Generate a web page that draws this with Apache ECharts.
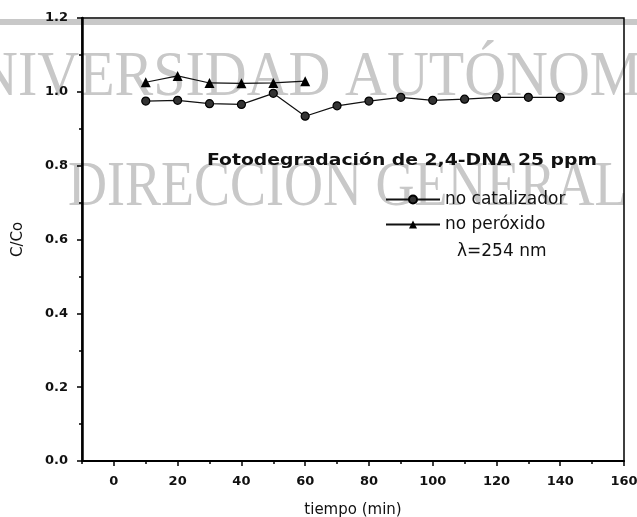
<!DOCTYPE html>
<html>
<head>
<meta charset="utf-8">
<script src="https://cdn.jsdelivr.net/npm/echarts@6/dist/echarts.min.js"></script>
<style>html,body{margin:0;padding:0;background:#fff}#c{width:637px;height:517px}</style>
</head>
<body>
<div id="c"></div>
<script>
// ---- data ----
const xTiempo = [10, 20, 30, 40, 50, 60, 70, 80, 90, 100, 110, 120, 130, 140];
const noCatalizador = [0.975, 0.977, 0.968, 0.966, 0.996, 0.934, 0.962, 0.975, 0.985, 0.977, 0.980, 0.985, 0.985, 0.985];
const xPeroxido = [10, 20, 30, 40, 50, 60];
const noPeroxido = [1.026, 1.043, 1.024, 1.023, 1.024, 1.029];
const xMajorTicks = [0, 20, 40, 60, 80, 100, 120, 140, 160];
const xMinorTicks = [-10, 10, 30, 50, 70, 90, 110, 130, 150];
const seriesNames = ['no catalizador', 'no peróxido'];
const titleText = 'Fotodegradación de 2,4-DNA 25 ppm';
const lambdaText = 'λ=254 nm';
const xName = 'tiempo (min)';
const yName = 'C/Co';
const watermark1 = 'UNIVERSIDAD AUTÓNOMA DE NUEVO LEÓN';
const watermark2 = 'DIRECCION GENERAL DE BIBLIOTECAS';

function measure(text, font) {
  const cv = document.createElement('canvas').getContext('2d');
  cv.font = font;
  return cv.measureText(text).width;
}

const titleFont = 'bold 16px "DejaVu Sans"';
const titleScale = 390 / measure(titleText, titleFont);
const wm1Font = '58px "Liberation Serif"';
const wm2Font = '54px "Liberation Serif"';
const wm1X = 345 - measure('UNIVERSIDAD ', wm1Font);

const chart = echarts.init(document.getElementById('c'), null, {renderer: 'canvas'});
const axisFont = {fontFamily: 'DejaVu Sans', fontWeight: 'bold', fontSize: 13, color: '#111'};

chart.setOption({
  backgroundColor: '#fff',
  animation: false,
  grid: {left: 82, right: 13, top: 18, bottom: 56, show: true, borderColor: '#000', borderWidth: 1.5,
    backgroundColor: 'transparent', outerBoundsMode: 'none', containLabel: false},
  graphic: [
    {type: 'rect', z: -10, silent: true, shape: {x: 0, y: 19, width: 637, height: 6}, style: {fill: '#c8c8c8'}},
    {type: 'text', z: -10, silent: true, x: wm1X, y: 79, scaleY: 1.08,
      style: {text: watermark1, font: wm1Font, fill: '#c8c8c8', textAlign: 'left', textVerticalAlign: 'middle', verticalAlign: 'middle'}},
    {type: 'text', z: -10, silent: true, x: 68, y: 188, scaleY: 1.18,
      style: {text: watermark2, font: wm2Font, fill: '#c8c8c8', textAlign: 'left', textVerticalAlign: 'middle', verticalAlign: 'middle'}},
    {type: 'text', z: 10, x: 207, y: 161, scaleX: titleScale,
      style: {text: titleText, font: titleFont, fill: '#111', textAlign: 'left', textVerticalAlign: 'middle', verticalAlign: 'middle'}},
    {type: 'text', z: 10, x: 457, y: 252,
      style: {text: lambdaText, font: '17px "DejaVu Sans"', fill: '#111', textAlign: 'left', textVerticalAlign: 'middle', verticalAlign: 'middle'}}
  ],
  legend: {
    orient: 'vertical', left: 385, top: 191, padding: 0, itemGap: 8,
    itemWidth: 54, itemHeight: 10,
    textStyle: {fontFamily: 'DejaVu Sans', fontSize: 17, color: '#111'},
    data: seriesNames
  },
  xAxis: [
    {
      type: 'value', min: -10, max: 160,
      name: xName, nameLocation: 'middle', nameGap: 42,
      nameTextStyle: {fontFamily: 'DejaVu Sans', fontSize: 15, color: '#111'},
      axisLine: {show: true, onZero: false, lineStyle: {color: '#000', width: 2}},
      axisTick: {show: true, inside: false, length: 5, customValues: xMajorTicks, lineStyle: {color: '#000', width: 1.5}},
      axisLabel: {show: true, margin: 14, customValues: xMajorTicks, ...axisFont},
      splitLine: {show: false}
    },
    {
      type: 'value', min: -10, max: 160, position: 'bottom',
      axisLine: {show: false, onZero: false},
      axisTick: {show: true, inside: false, length: 3, customValues: xMinorTicks, lineStyle: {color: '#000', width: 1.5}},
      axisLabel: {show: false},
      splitLine: {show: false}
    }
  ],
  yAxis: {
    type: 'value', min: 0, max: 1.2, interval: 0.2,
    name: yName, nameLocation: 'middle', nameGap: 56,
    nameTextStyle: {fontFamily: 'DejaVu Sans', fontSize: 15, color: '#111'},
    axisLine: {show: true, onZero: false, lineStyle: {color: '#000', width: 2.5}},
    axisTick: {show: true, inside: false, length: 5, lineStyle: {color: '#000', width: 1.5}},
    minorTick: {show: true, splitNumber: 2, length: 3, lineStyle: {color: '#000', width: 1.5}},
    axisLabel: {margin: 14, formatter: v => v.toFixed(1), ...axisFont},
    splitLine: {show: false}
  },
  series: [
    {
      name: seriesNames[0], type: 'line', xAxisIndex: 0,
      data: xTiempo.map((x, i) => [x, noCatalizador[i]]),
      symbol: 'circle', symbolSize: 8,
      lineStyle: {color: '#111', width: 1.2},
      itemStyle: {color: '#333', borderColor: '#000', borderWidth: 1.2}
    },
    {
      name: seriesNames[1], type: 'line', xAxisIndex: 0,
      data: xPeroxido.map((x, i) => [x, noPeroxido[i]]),
      symbol: 'triangle', symbolSize: 10,
      lineStyle: {color: '#111', width: 1.2},
      itemStyle: {color: '#000'}
    }
  ]
});
</script>
</body>
</html>
